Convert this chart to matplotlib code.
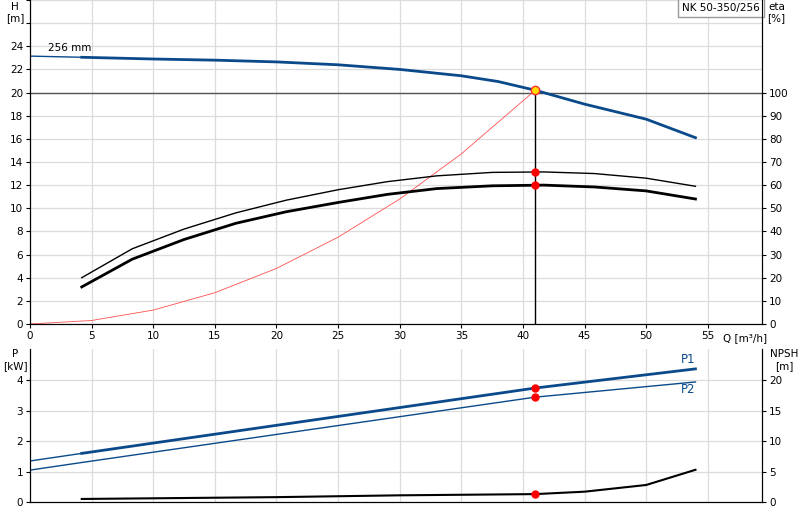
import numpy as np
import matplotlib
matplotlib.use('Agg')
import matplotlib.pyplot as plt

# pump head curve
q_h = [0, 4.2, 10, 15, 20, 25, 30, 35, 38, 41, 45, 50, 54]
h = [23.15, 23.05, 22.9, 22.8, 22.65, 22.4, 22.0, 21.45, 20.95, 20.2, 19.0, 17.7, 16.1]
# efficiency curves [%]
q_eta = [4.2, 8.3, 12.5, 16.7, 20.8, 25, 29, 33, 37.5, 41.7, 45.8, 50, 54]
eta1 = [20, 32.5, 41, 48, 53.5, 58, 61.5, 64, 65.5, 65.7, 65, 63, 59.5]
eta2 = [16, 28, 36.5, 43.5, 48.5, 52.5, 56, 58.5, 59.7, 60, 59.2, 57.5, 54]
# system curve
q_sys = [0, 5, 10, 15, 20, 25, 30, 35, 41]
h_sys = [0, 0.3, 1.2, 2.7, 4.8, 7.5, 10.8, 14.7, 20.2]
# power
q_p = [0, 4.2, 41, 54]
p1 = [1.35, 1.6, 3.75, 4.38]
p2 = [1.05, 1.3, 3.45, 3.95]
# NPSH
q_npsh = [4.2, 20, 30, 41, 45, 50, 54]
npsh = [0.5, 0.8, 1.1, 1.3, 1.7, 2.8, 5.3]

q_duty, h_duty, eta1_duty, eta2_duty = 41, 20.2, 65.7, 60
p1_duty, p2_duty, npsh_duty = 3.75, 3.45, 1.3

blue = '#0a4a8a'
grid_c = '#dcdcdc'
plt.rcParams['font.size'] = 7.5

fig = plt.figure(figsize=(8, 5.2), dpi=100)
ax = fig.add_axes([0.0375, 0.377, 0.915, 0.623])
ax_b = fig.add_axes([0.0375, 0.0346, 0.915, 0.294])

for a in (ax, ax_b):
    a.set_xlim(0, 59.4)
    a.set_xticks(range(0, 60, 5))
    a.grid(True, color=grid_c, lw=0.9)
    a.spines['top'].set_visible(False)
    a.tick_params(length=3, pad=2)

ax.set_ylim(0, 28)
ax.set_yticks(range(0, 29, 2))
ax.set_yticklabels([str(v) if v <= 24 else '' for v in range(0, 29, 2)])
ax.set_xticklabels([str(v) for v in range(0, 60, 5)])
ax.text(-0.02, 0.995, 'H\n[m]', transform=ax.transAxes, ha='center', va='top')
ax.text(56.2, -0.75, 'Q [m³/h]', ha='left', va='top')

axr = ax.twinx()
axr.set_ylim(0, 140)
axr.set_yticks(range(0, 101, 10))
axr.spines['top'].set_visible(False)
axr.tick_params(length=3, pad=2)
axr.text(1.02, 0.995, 'eta\n[%]', transform=ax.transAxes, ha='center', va='top')

ax.axhline(20, color='#555555', lw=1)
ax.plot(q_h[:2], h[:2], color=blue, lw=1)
ax.plot(q_h[1:], h[1:], color=blue, lw=2)
ax.text(1.5, 23.4, '256 mm', ha='left', va='bottom')
ax.plot(q_sys, h_sys, color='#ff5050', lw=0.6)
axr.plot(q_eta, eta1, color='black', lw=1)
axr.plot(q_eta, eta2, color='black', lw=2)
ax.plot([q_duty, q_duty], [0, h_duty], color='black', lw=1)
ax.plot(q_duty, h_duty, 'o', color='#ffdd00', mec='#ff3030', ms=6)
axr.plot([q_duty, q_duty], [eta1_duty, eta2_duty], 'o', color='red', ms=5, ls='none')
ax.text(0.997, 0.99, 'NK 50-350/256', transform=ax.transAxes, ha='right', va='top',
        bbox=dict(fc='white', ec='#999999', pad=3))

ax_b.set_ylim(0, 5.03)
ax_b.set_yticks(range(0, 5))
ax_b.set_xticklabels([])
ax_b.tick_params(axis='x', length=0)
ax_b.text(-0.02, 1.0, 'P\n[kW]', transform=ax_b.transAxes, ha='center', va='top')
axbr = ax_b.twinx()
axbr.set_ylim(0, 25.15)
axbr.set_yticks(range(0, 21, 5))
axbr.spines['top'].set_visible(False)
axbr.tick_params(length=3, pad=2)
axbr.text(1.03, 1.0, 'NPSH\n[m]', transform=ax_b.transAxes, ha='center', va='top')

ax_b.plot(q_p[:2], p1[:2], color=blue, lw=1)
ax_b.plot(q_p[1:], p1[1:], color=blue, lw=2)
ax_b.plot(q_p, p2, color=blue, lw=1)
ax_b.text(54, p1[-1] + 0.08, 'P1', color=blue, ha='right', va='bottom', fontsize=8.5)
ax_b.text(54, p2[-1] - 0.05, 'P2', color=blue, ha='right', va='top', fontsize=8.5)
axbr.plot(q_npsh, npsh, color='black', lw=1.5)
ax_b.plot([q_duty, q_duty], [p1_duty, p2_duty], 'o', color='red', ms=5, ls='none')
axbr.plot(q_duty, npsh_duty, 'o', color='red', ms=5)

fig.savefig('out.png', dpi=100)
